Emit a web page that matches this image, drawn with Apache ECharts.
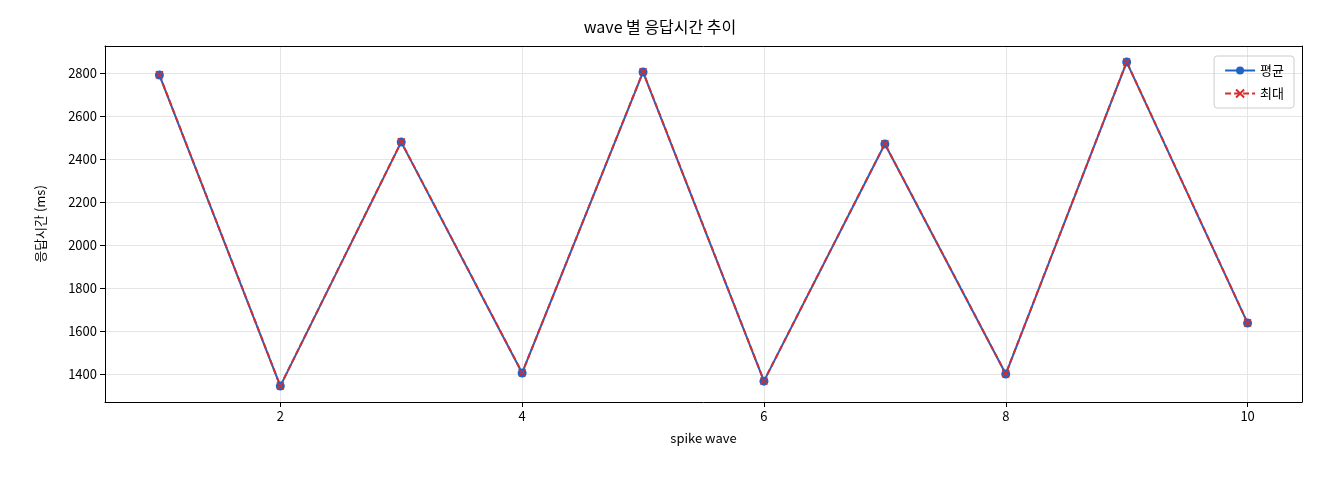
<!DOCTYPE html>
<html><head><meta charset="utf-8">
<script src="https://cdn.jsdelivr.net/npm/echarts@6/dist/echarts.min.js"></script>
<style>html,body{margin:0;padding:0;background:#fff}#c{width:1320px;height:480px}</style>
</head><body><div id="c"></div>
<script>
const waves = [1,2,3,4,5,6,7,8,9,10];
const avgValues = [2791,1344,2479,1405,2805,1367,2470,1400,2851,1637];
const maxValues = [2792,1345,2480,1406,2806,1368,2471,1401,2852,1638];
const xTicks = [2,4,6,8,10];
const yTicks = [1400,1600,1800,2000,2200,2400,2600,2800];
const F = '"Noto Sans CJK KR","Noto Sans",sans-serif';
const xPath = 'path://M0,0L10,10M10,0L0,10';
const chart = echarts.init(document.getElementById('c'));
const boxAxis = {min:null,max:null,show:true,axisLine:{show:true,lineStyle:{color:'#000'}},axisTick:{show:false},axisLabel:{show:false},splitLine:{show:false}};
chart.setOption({
  animation:false,
  title:{text:'wave 별 응답시간 추이',left:'center',top:14,textStyle:{fontFamily:F,fontSize:16,fontWeight:'normal',color:'#000'}},
  legend:{right:26,top:56,orient:'vertical',itemGap:10,borderColor:'#ccc',borderWidth:1,borderRadius:3,padding:[8,10],
    textStyle:{fontFamily:F,fontSize:13,color:'#000'},itemWidth:30,itemHeight:10,
    data:[{name:'평균'},{name:'최대'}]},
  grid:{left:105,right:18,top:46,bottom:78},
  xAxis:[{type:'value',min:0.55,max:10.45,name:'spike wave',nameLocation:'middle',nameGap:30,
    nameTextStyle:{fontFamily:F,fontSize:13,color:'#000'},
    axisLine:{onZero:false,lineStyle:{color:'#000'}},
    axisTick:{show:true,customValues:xTicks,lineStyle:{color:'#000'}},
    axisLabel:{customValues:xTicks,fontFamily:F,fontSize:13,color:'#000',formatter:v=>String(v)},
    splitLine:{show:true,lineStyle:{color:'#e5e5e5'}}},
    Object.assign({},boxAxis,{type:'value',position:'top',min:0.55,max:10.45})],
  yAxis:[{type:'value',min:1270,max:2926,name:'응답시간 (ms)',nameLocation:'middle',nameGap:58,
    nameTextStyle:{fontFamily:F,fontSize:13,color:'#000'},
    axisLine:{show:true,onZero:false,lineStyle:{color:'#000'}},
    axisTick:{show:true,customValues:yTicks,lineStyle:{color:'#000'}},
    axisLabel:{customValues:yTicks,fontFamily:F,fontSize:13,color:'#000',formatter:v=>String(v)},
    splitLine:{show:true,lineStyle:{color:'#e5e5e5'}}},
    Object.assign({},boxAxis,{type:'value',position:'right',min:1270,max:2926})],
  series:[
    {name:'평균',type:'line',data:waves.map((w,i)=>[w,avgValues[i]]),symbol:'circle',symbolSize:9,
     itemStyle:{color:'#1f63c6'},lineStyle:{color:'#1f63c6',width:2}},
    {name:'최대',type:'line',data:waves.map((w,i)=>[w,maxValues[i]]),symbol:xPath,symbolSize:7,
     itemStyle:{color:'#d62d2d',borderColor:'#d62d2d',borderWidth:1.5},lineStyle:{color:'#d62d2d',width:2,type:[6,3]}}
  ]
});
</script></body></html>
